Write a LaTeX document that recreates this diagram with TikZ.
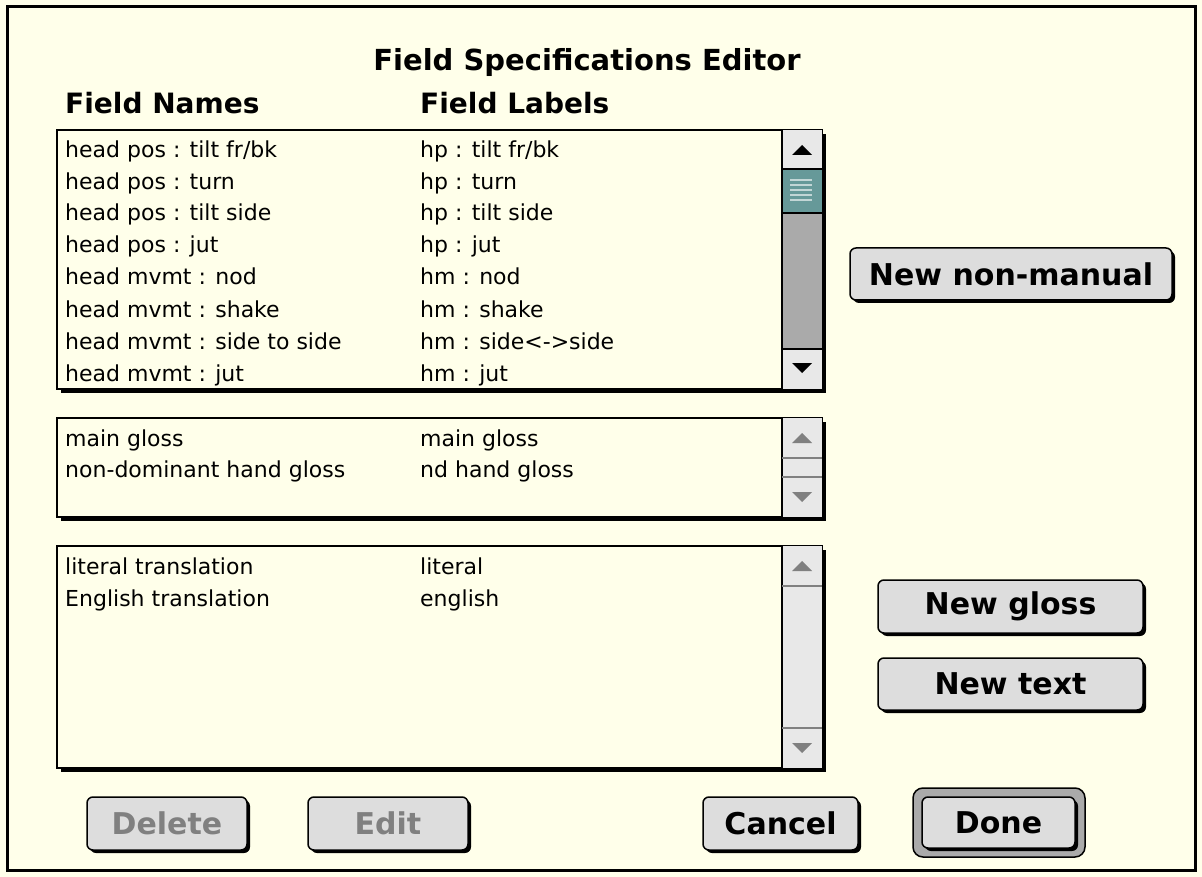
\documentclass[tikz,border=0pt]{standalone}
\usepackage{fontspec}
\setmainfont{DejaVu Sans}
\usetikzlibrary{positioning,shadows}

\definecolor{cream}{RGB}{255,255,234}
\definecolor{btngray}{RGB}{221,221,221}
\definecolor{arrowgray}{RGB}{232,232,232}
\definecolor{trackgray}{RGB}{170,170,170}
\definecolor{thumbteal}{RGB}{102,153,153}
\definecolor{dimtext}{RGB}{128,128,128}

\tikzset{
  listbox/.style={draw, line width=2pt, fill=cream, inner sep=0pt,
    general shadow={fill=black, shadow xshift=4pt, shadow yshift=-4pt}},
  button/.style={draw, line width=1.5pt, fill=btngray, rounded corners=6pt,
    inner sep=0pt, font=\bfseries\fontsize{30}{34}\selectfont,
    general shadow={fill=black, shadow xshift=3pt, shadow yshift=-3pt}},
  row/.style={anchor=base west, inner sep=0pt, font=\fontsize{22}{26}\selectfont},
  head/.style={anchor=base west, inner sep=0pt, font=\bfseries\fontsize{28}{32}\selectfont}
}

\begin{document}
\begin{tikzpicture}[x=1pt, y=-1pt]
  \useasboundingbox (0,0) rectangle (1202,877);
  \fill[cream] (0,0) rectangle (1202,877);
  \draw[line width=3pt] (7,7) rectangle (1195,870);

  % Titel und Spaltenkoepfe
  \node[anchor=base, inner sep=0pt, font=\bfseries\fontsize{29}{33}\selectfont] (title) at (587,71) {Field Specifications Editor};
  \node[head] (names) at (65,114) {Field Names};
  \node[head] (labels) at (420,114) {Field Labels};

  % Liste 1: nicht-manuelle Felder
  \node[listbox, minimum width=765, minimum height=259] (list1) at (439.5,259.5) {};
  \fill[arrowgray] (782,130) rectangle (822,169);
  \fill[thumbteal] (782,169) rectangle (822,213);
  \fill[trackgray] (782,213) rectangle (822,349);
  \fill[arrowgray] (782,349) rectangle (822,389);
  \draw[line width=1.5pt] (782,130) -- (782,389);
  \draw[line width=1.5pt] (782,169) -- (822,169) (782,213) -- (822,213) (782,349) -- (822,349);
  \draw[white!60!thumbteal, line width=1.5pt] (790,180) -- (812,180) (790,185) -- (812,185)
    (790,190) -- (812,190) (790,195) -- (812,195) (790,200) -- (812,200);
  \fill (792,155) -- (812,155) -- (802,145) -- cycle;
  \fill (792,363) -- (812,363) -- (802,373) -- cycle;

  \node[row] (n1) at (65,158) {head pos : tilt fr/bk};
  \node[row] (n2) at (65,190) {head pos : turn};
  \node[row] (n3) at (65,221) {head pos : tilt side};
  \node[row] (n4) at (65,253) {head pos : jut};
  \node[row] (n5) at (65,285) {head mvmt : nod};
  \node[row] (n6) at (65,317) {head mvmt : shake};
  \node[row] (n7) at (65,349) {head mvmt : side to side};
  \node[row] (n8) at (65,381) {head mvmt : jut};
  \node[row] (l1) at (420,158) {hp : tilt fr/bk};
  \node[row] (l2) at (420,190) {hp : turn};
  \node[row] (l3) at (420,221) {hp : tilt side};
  \node[row] (l4) at (420,253) {hp : jut};
  \node[row] (l5) at (420,285) {hm : nod};
  \node[row] (l6) at (420,317) {hm : shake};
  \node[row] (l7) at (420,349) {hm : side<->side};
  \node[row] (l8) at (420,381) {hm : jut};

  % Liste 2: Glossen
  \node[listbox, minimum width=765, minimum height=99] (list2) at (439.5,467.5) {};
  \fill[arrowgray] (782,418) rectangle (822,517);
  \draw[line width=1.5pt] (782,418) -- (782,517);
  \draw[dimtext, line width=1.5pt] (782,458) -- (822,458) (782,477) -- (822,477);
  \fill[dimtext] (792,443) -- (812,443) -- (802,433) -- cycle;
  \fill[dimtext] (792,492) -- (812,492) -- (802,502) -- cycle;

  \node[row] (g1) at (65,446) {main gloss};
  \node[row] (g2) at (65,477) {non-dominant hand gloss};
  \node[row] (h1) at (420,446) {main gloss};
  \node[row] (h2) at (420,477) {nd hand gloss};

  % Liste 3: Uebersetzungen
  \node[listbox, minimum width=765, minimum height=222] (list3) at (439.5,657) {};
  \fill[arrowgray] (782,546) rectangle (822,768);
  \draw[line width=1.5pt] (782,546) -- (782,768);
  \draw[dimtext, line width=1.5pt] (782,586) -- (822,586) (782,728) -- (822,728);
  \fill[dimtext] (792,571) -- (812,571) -- (802,561) -- cycle;
  \fill[dimtext] (792,743) -- (812,743) -- (802,753) -- cycle;

  \node[row] (t1) at (65,574) {literal translation};
  \node[row] (t2) at (65,606) {English translation};
  \node[row] (u1) at (420,574) {literal};
  \node[row] (u2) at (420,606) {english};

  % Knoepfe rechts
  \node[button, minimum width=322, minimum height=52] (newnm) at (1011,274) {New non-manual};
  \node[button, minimum width=265, minimum height=53] (newgloss) at (1010.5,606.5) {New gloss};
  \node[button, minimum width=265, minimum height=52] (newtext) at (1010.5,684) {New text};

  % Knoepfe unten
  \node[button, text=dimtext, minimum width=160, minimum height=53] (delete) at (167,823.5) {Delete};
  \node[button, text=dimtext, minimum width=160, minimum height=53] (edit) at (388,823.5) {Edit};
  \node[button, minimum width=155, minimum height=53] (cancel) at (780.5,823.5) {Cancel};
  \node[draw, line width=1.5pt, fill=trackgray, rounded corners=10pt, minimum width=172, minimum height=69] (donering) at (999,822.5) {};
  \node[button, minimum width=153, minimum height=51] (done) at (998.5,822.5) {Done};
\end{tikzpicture}
\end{document}
